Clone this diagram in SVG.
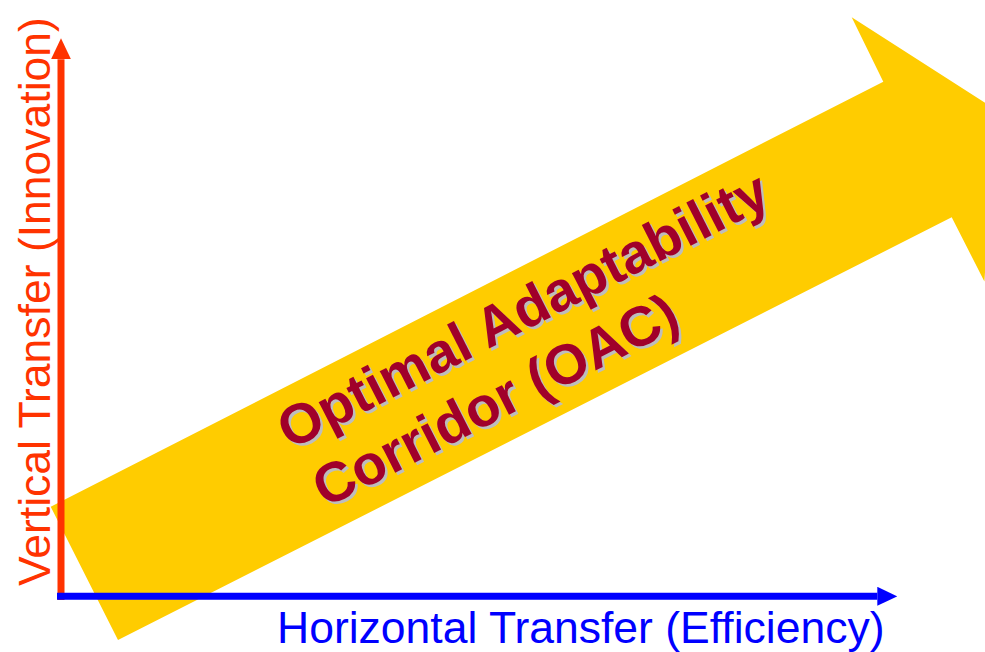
<svg xmlns="http://www.w3.org/2000/svg" width="985" height="652" viewBox="0 0 985 652">
  <defs>
    <style>
      .axis-label { font-family: "Liberation Sans", Arial, sans-serif; font-size: 44.5px; }
      .oac { font-family: "Liberation Sans", Arial, sans-serif; font-size: 56px; font-weight: bold; }
      .oac-fill { fill: #A0002A; }
      .oac-shadow { fill: #BDBDBD; }
    </style>
    <marker id="head-red" markerUnits="userSpaceOnUse" markerWidth="21" markerHeight="20" refX="0" refY="10" orient="auto">
      <path d="M0,0 L21,10 L0,20 z" fill="#FF3300"/>
    </marker>
    <marker id="head-blue" markerUnits="userSpaceOnUse" markerWidth="20" markerHeight="19" refX="0" refY="9.5" orient="auto">
      <path d="M0,0 L20,9.5 L0,19 z" fill="#0000FF"/>
    </marker>
  </defs>
  <rect width="985" height="652" fill="#FFFFFF"/>

  <g id="oac-arrow">
    <polygon points="50.7,506.7 883.3,81.7 851.7,17.3 995.6,109.5 984.4,281.4 951.7,217.3 118,640" fill="#FFCC00"/>
  </g>

  <g id="connectors">
    <line x1="61" y1="600" x2="61" y2="59.3" stroke="#FF3300" stroke-width="7" marker-end="url(#head-red)"/>
    <line x1="57" y1="596.3" x2="877.3" y2="596.3" stroke="#0000FF" stroke-width="7" marker-end="url(#head-blue)"/>
  </g>

  <g id="vertical-label">
    <text class="axis-label" fill="#FF3300" transform="translate(50,586) rotate(-90)">Vertical Transfer (Innovation)</text>
  </g>

  <g id="horizontal-label">
    <text class="axis-label" fill="#0000FF" x="277" y="643">Horizontal Transfer (Efficiency)</text>
  </g>

  <g id="oac-label">
    <g transform="translate(292.5,452.5) rotate(-27)" class="oac oac-shadow">
      <text x="0" y="0">Optimal Adaptability</text>
      <text x="5" y="68">Corridor (OAC)</text>
    </g>
    <g transform="translate(290,450) rotate(-27)" class="oac oac-fill">
      <text x="0" y="0">Optimal Adaptability</text>
      <text x="5" y="68">Corridor (OAC)</text>
    </g>
  </g>
</svg>
